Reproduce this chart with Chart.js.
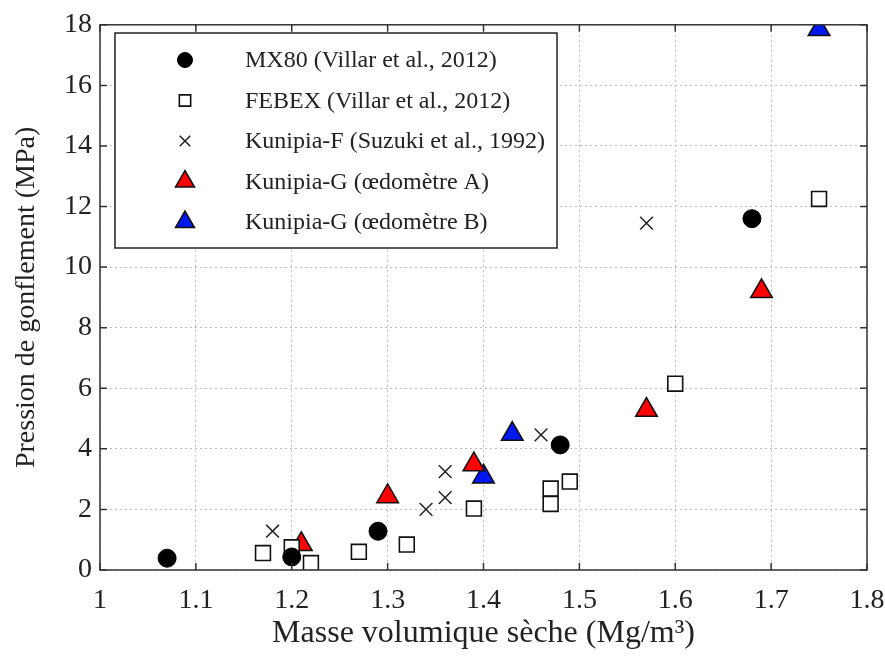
<!DOCTYPE html>
<html lang="fr">
<head>
<meta charset="UTF-8">
<title>Pression de gonflement</title>
<script src="https://cdn.jsdelivr.net/npm/chart.js"></script>
<style>
    html, body { margin: 0; padding: 0; background: #fff; }
    #wrap { width: 885px; height: 659px; }
</style>
</head>
<body>
<div id="wrap"><canvas id="chart" width="885" height="659"></canvas></div>
<script>
    // masse volumique sèche (Mg/m3) / pression de gonflement (MPa)
    const mx80X = [1.07, 1.20, 1.29, 1.48, 1.68];
    const mx80Y = [0.39, 0.43, 1.28, 4.13, 11.6];

    const febexX = [1.17, 1.20, 1.22, 1.27, 1.32, 1.39, 1.47, 1.47, 1.49, 1.60, 1.75];
    const febexY = [0.56, 0.75, 0.23, 0.60, 0.84, 2.03, 2.69, 2.18, 2.92, 6.15, 12.25];

    const kunFX = [1.18, 1.34, 1.36, 1.36, 1.46, 1.57];
    const kunFY = [1.28, 2.00, 2.39, 3.25, 4.46, 11.45];

    const kunGAX = [1.21, 1.30, 1.39, 1.57, 1.69];
    const kunGAY = [0.85, 2.43, 3.48, 5.28, 9.2];

    const kunGBX = [1.40, 1.43, 1.75];
    const kunGBY = [3.08, 4.49, 17.85];

    const xTicks = [1, 1.1, 1.2, 1.3, 1.4, 1.5, 1.6, 1.7, 1.8];
    const yTicks = [0, 2, 4, 6, 8, 10, 12, 14, 16, 18];

    const FONT = "'Liberation Serif', 'Times New Roman', serif";

    function pts(xs, ys) {
        return xs.map((x, i) => ({ x: x, y: ys[i] }));
    }

    const series = [
        { label: 'MX80 (Villar et al., 2012)', data: pts(mx80X, mx80Y), pointStyle: 'circle',
          backgroundColor: '#000', borderColor: '#000', pointRadius: 9, borderWidth: 1, legendR: 7.5 },
        { label: 'FEBEX (Villar et al., 2012)', data: pts(febexX, febexY), pointStyle: 'rect',
          backgroundColor: '#fff', borderColor: '#111', pointRadius: 10.5, borderWidth: 1.6, legendR: 8 },
        { label: 'Kunipia-F (Suzuki et al., 1992)', data: pts(kunFX, kunFY), pointStyle: 'crossRot',
          backgroundColor: '#222', borderColor: '#222', pointRadius: 9, borderWidth: 1.5, legendR: 7.5 },
        { label: 'Kunipia-G (\u0153dom\u00e8tre A)', data: pts(kunGAX, kunGAY), pointStyle: 'triangle',
          backgroundColor: '#f00', borderColor: '#111', pointRadius: 12.5, borderWidth: 1.5, legendR: 11 },
        { label: 'Kunipia-G (\u0153dom\u00e8tre B)', data: pts(kunGBX, kunGBY), pointStyle: 'triangle',
          backgroundColor: '#0018f0', borderColor: '#111', pointRadius: 12.5, borderWidth: 1.5, legendR: 11 }
    ];

    // cadre, petits traits de graduation vers l'intérieur et légende encadrée
    const framePlugin = {
        id: 'frame',
        afterDatasetsDraw(chart) {
            const ctx = chart.ctx;
            const a = chart.chartArea;
            const xs = chart.scales.x, ys = chart.scales.y;
            ctx.save();
            ctx.strokeStyle = '#333';
            ctx.lineWidth = 1.5;
            ctx.beginPath();
            xTicks.forEach(v => {
                const px = xs.getPixelForValue(v);
                ctx.moveTo(px, a.bottom); ctx.lineTo(px, a.bottom - 7);
                ctx.moveTo(px, a.top); ctx.lineTo(px, a.top + 7);
            });
            yTicks.forEach(v => {
                const py = ys.getPixelForValue(v);
                ctx.moveTo(a.left, py); ctx.lineTo(a.left + 7, py);
                ctx.moveTo(a.right, py); ctx.lineTo(a.right - 7, py);
            });
            ctx.stroke();
            ctx.strokeRect(a.left, a.top, a.right - a.left, a.bottom - a.top);

            // légende
            const bx = 115, by = 33, bw = 442, bh = 215;
            ctx.fillStyle = '#fff';
            ctx.fillRect(bx, by, bw, bh);
            ctx.strokeStyle = '#222';
            ctx.lineWidth = 1.5;
            ctx.strokeRect(bx, by, bw, bh);
            ctx.font = '24px ' + FONT;
            ctx.textBaseline = 'middle';
            ctx.textAlign = 'left';
            series.forEach((s, i) => {
                const cy = by + 27 + i * 40.5;
                ctx.fillStyle = s.backgroundColor;
                ctx.strokeStyle = s.borderColor;
                ctx.lineWidth = s.borderWidth;
                Chart.helpers.drawPoint(ctx, { pointStyle: s.pointStyle, radius: s.legendR, borderWidth: s.borderWidth }, 185, cy);
                ctx.fillStyle = '#222';
                ctx.fillText(s.label, 245, cy + 1);
            });
            ctx.restore();
        }
    };

    new Chart(document.getElementById('chart'), {
        type: 'scatter',
        data: {
            datasets: series.map(s => ({
                label: s.label,
                data: s.data,
                pointStyle: s.pointStyle,
                backgroundColor: s.backgroundColor,
                borderColor: s.borderColor,
                pointRadius: s.pointRadius,
                pointHoverRadius: s.pointRadius,
                borderWidth: s.borderWidth
            }))
        },
        options: {
            responsive: false,
            animation: false,
            layout: { padding: { top: 21, right: 18, left: 0, bottom: 0 } },
            plugins: { legend: { display: false }, tooltip: { enabled: false } },
            scales: {
                x: {
                    type: 'linear', min: 1, max: 1.8,
                    afterBuildTicks: s => { s.ticks = xTicks.map(v => ({ value: v })); },
                    afterFit: s => { s.height = 89; s.paddingRight = 0; s.paddingLeft = 0; },
                    grid: { color: '#bdbdbd', lineWidth: 1, drawTicks: false },
                    border: { display: false, dash: [2, 3] },
                    ticks: {
                        color: '#222', padding: 14,
                        font: { family: FONT, size: 28 },
                        callback: v => String(+v.toFixed(1))
                    },
                    title: {
                        display: true, text: 'Masse volumique s\u00e8che (Mg/m\u00b3)', color: '#222',
                        font: { family: FONT, size: 32 }, padding: { top: 0, bottom: 6 }
                    }
                },
                y: {
                    type: 'linear', min: 0, max: 18,
                    afterBuildTicks: s => { s.ticks = yTicks.map(v => ({ value: v })); },
                    afterFit: s => { s.width = 100; },
                    grid: { color: '#bdbdbd', lineWidth: 1, drawTicks: false },
                    border: { display: false, dash: [2, 3] },
                    ticks: {
                        color: '#222', padding: 8,
                        font: { family: FONT, size: 28 }
                    },
                    title: {
                        display: true, text: 'Pression de gonflement (MPa)', color: '#222',
                        font: { family: FONT, size: 28 }, padding: { top: 10, bottom: 0 }
                    }
                }
            }
        },
        plugins: [framePlugin]
    });
</script>
</body>
</html>
